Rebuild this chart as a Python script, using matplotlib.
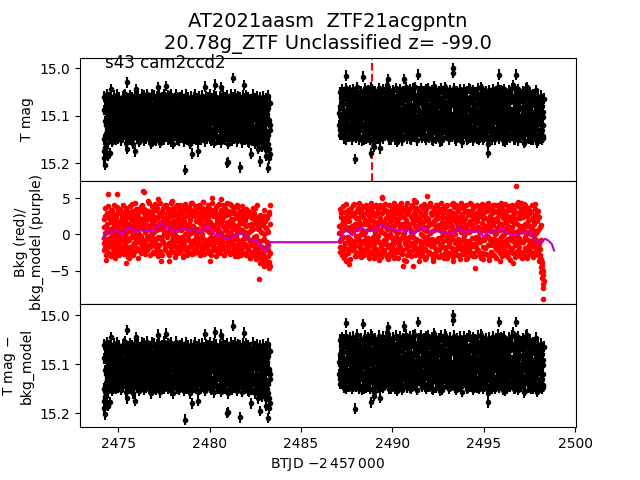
import numpy as np
import matplotlib
matplotlib.use("Agg")
import matplotlib.pyplot as plt

# ---------------- data ----------------
title_line1 = "AT2021aasm  ZTF21acgpntn"
title_line2 = "20.78g_ZTF Unclassified z= -99.0"
sector_label = "s43 cam2ccd2"
marker_time = 2488.87

# segment time ranges (regular TESS cadence)
seg1_start, seg1_end = 2474.20, 2483.30
seg2_start, seg2_end = 2487.10, 2498.27
mag_err = 0.011

# T mag, in mmag above 15.000 (cadence A)
tmag_seg1_mmag = [
    190, 175, 203, 160, 120, 182, 95, 140, 75, 178, 110, 45, 130, 88, 150, 105, 70, 125, 95, 140,
    100, 135, 80, 118, 68, 145, 92, 112, 76, 128, 102, 58, 140, 85, 120, 97, 30, 170, 110, 82,
    130, 72, 115, 95, 150, 66, 108, 125, 88, 175, 100, 45, 132, 78, 118, 92, 140, 70, 105, 122,
    85, 138, 62, 110, 128, 96, 148, 74, 116, 90, 135, 68, 102, 125, 80, 145, 94, 112, 58, 130,
    100, 75, 140, 88, 120, 40, 105, 133, 70, 115, 92, 148, 82, 126, 65, 108, 138, 38, 118, 90,
    142, 72, 110, 128, 86, 155, 98, 64, 122, 104, 136, 80, 115, 94, 150, 70, 108, 130, 88, 118,
    76, 140, 100, 66, 126, 92, 214, 112, 84, 145, 104, 70, 132, 96, 118, 160, 78, 180, 106, 88,
    125, 62, 114, 150, 90, 135, 74, 175, 102, 120, 84, 142, 68, 110, 130, 96, 146, 39, 116, 88,
    134, 76, 106, 124, 92, 148, 70, 112, 138, 82, 100, 128, 64, 118, 35, 94, 144, 108, 78, 126,
    98, 150, 66, 40, 115, 132, 86, 145, 110, 128, 72, 138, 200, 94, 198, 104, 80, 136, 116, 68,
    122, 90, 21, 140, 106, 76, 130, 112, 150, 84, 118, 96, 62, 209, 134, 100, 146, 74, 124, 36,
    92, 138, 80, 114, 155, 68, 126, 104, 143, 86, 180, 110, 72, 132, 98, 150, 64, 120, 88, 140,
    106, 170, 78, 196, 128, 94, 148, 70, 118, 160, 86, 136, 102, 185, 75, 150, 210, 115, 190, 130,
]
tmag_seg2_mmag = [
    95, 130, 62, 110, 140, 75, 118, 50, 102, 135, 16, 88, 124, 66, 145, 98, 80, 115, 58, 138,
    92, 120, 70, 191, 105, 48, 132, 84, 112, 150, 64, 100, 126, 78, 18, 142, 90, 56, 116, 134,
    72, 104, 146, 60, 122, 86, 178, 40, 110, 128, 96, 165, 68, 138, 82, 114, 52, 148, 100, 169,
    76, 124, 94, 55, 136, 108, 70, 142, 88, 118, 35, 24, 130, 62, 102, 150, 80, 112, 46, 126,
    96, 140, 66, 116, 84, 155, 104, 50, 132, 74, 120, 92, 145, 60, 110, 23, 86, 128, 100, 70,
    138, 56, 118, 90, 148, 78, 106, 126, 42, 98, 135, 68, 114, 152, 82, 14, 122, 94, 58, 140,
    104, 74, 130, 88, 48, 116, 146, 64, 100, 124, 80, 138, 54, 112, 96, 150, 70, 120, 38, 108,
    86, 134, 62, 118, 100, 144, 76, 126, 50, 110, 92, 152, 68, 130, 84, 40, 122, 98, 140, 60,
    114, 80, 136, 96, 54, 124, 0, 10, 106, 148, 72, 118, 88, 140, 64, 102, 130, 46, 112, 156,
    78, 126, 94, 58, 138, 104, 70, 120, 148, 84, 110, 44, 132, 92, 66, 142, 100, 124, 76, 116,
    56, 136, 90, 108, 150, 72, 122, 98, 40, 130, 82, 114, 146, 62, 104, 128, 88, 160, 178, 94,
    118, 68, 140, 100, 52, 126, 86, 112, 150, 74, 134, 96, 60, 120, 14, 104, 142, 80, 116, 48,
    130, 92, 154, 70, 110, 124, 58, 138, 98, 84, 146, 66, 118, 104, 36, 128, 90, 150, 76, 14,
    112, 136, 62, 100, 144, 82, 120, 54, 132, 94, 158, 72, 108, 126, 88, 40, 140, 102, 68, 118,
    96, 150, 78, 130, 110, 60, 142, 90, 124, 156, 74, 116, 100, 138, 84, 148, 106, 130, 92, 120,
]
# cadence B
tmag_seg1b_mmag = [
    150, 88, 168, 112, 72, 130, 96, 185, 80, 122, 104, 140, 66, 118, 92, 134, 78, 110, 128, 86,
    116, 70, 132, 98, 124, 84, 138, 74, 108, 94, 120, 68, 130, 102, 88, 114, 136, 76, 126, 96,
    82, 118, 104, 136, 72, 96, 128, 110, 70, 140, 90, 120, 84, 106, 132, 66, 114, 98, 126, 78,
    112, 94, 124, 80, 138, 102, 70, 118, 132, 86, 108, 96, 140, 74, 120, 90, 128, 106, 78, 116,
    124, 92, 108, 130, 68, 114, 98, 82, 136, 104, 72, 120, 110, 88, 134, 96, 76, 122, 102, 140,
    86, 118, 94, 74, 126, 108, 132, 88, 114, 70, 100, 138, 80, 122, 106, 92, 134, 78, 116, 98,
    120, 84, 128, 110, 94, 136, 72, 102, 124, 80, 118, 140, 90, 108, 76, 126, 98, 114, 132, 70,
    100, 130, 84, 96, 122, 106, 140, 78, 116, 92, 128, 72, 104, 136, 88, 118, 74, 100, 126, 110,
    92, 116, 134, 80, 104, 122, 96, 70, 128, 110, 86, 140, 76, 102, 120, 130, 84, 98, 114, 72,
    124, 82, 106, 118, 94, 72, 130, 100, 88, 116, 136, 98, 120, 76, 110, 140, 92, 126, 104, 86,
    108, 132, 76, 98, 120, 90, 114, 70, 104, 128, 80, 138, 94, 112, 82, 120, 100, 88, 116, 130,
    120, 72, 104, 130, 88, 112, 96, 140, 78, 118, 100, 84, 126, 108, 74, 136, 92, 110, 130, 102,
    130, 92, 150, 112, 80, 138, 100, 124, 90, 142, 108, 76, 130, 118, 160, 96, 140, 84, 170, 120,
]
tmag_seg2b_mmag = [
    120, 80, 104, 140, 68, 96, 126, 88, 112, 60, 132, 100, 76, 118, 92, 136, 64, 108, 124, 84,
    110, 70, 134, 96, 58, 122, 102, 140, 80, 114, 90, 128, 66, 106, 120, 84, 150, 98, 72, 116,
    130, 90, 62, 112, 100, 136, 76, 120, 94, 150, 82, 108, 126, 56, 114, 98, 134, 70, 104, 122,
    88, 116, 62, 130, 98, 80, 124, 108, 66, 140, 94, 112, 76, 128, 100, 58, 118, 90, 136, 72,
    106, 124, 84, 98, 62, 132, 110, 76, 120, 94, 140, 68, 104, 126, 88, 114, 56, 100, 134, 80,
    96, 118, 72, 128, 104, 60, 136, 90, 112, 80, 124, 100, 66, 116, 138, 86, 108, 74, 130, 94,
    112, 64, 102, 126, 86, 140, 96, 70, 118, 108, 58, 132, 90, 122, 76, 104, 136, 84, 114, 98,
    124, 78, 108, 92, 132, 60, 116, 100, 140, 82, 120, 72, 104, 128, 94, 56, 112, 134, 86, 106,
    90, 130, 74, 118, 102, 138, 66, 110, 96, 124, 82, 140, 60, 106, 120, 92, 132, 78, 100, 126,
    108, 70, 134, 94, 116, 84, 128, 62, 104, 120, 76, 140, 98, 112, 56, 130, 88, 106, 122, 80,
    128, 92, 110, 66, 136, 100, 80, 118, 90, 144, 72, 104, 126, 86, 114, 60, 132, 98, 120, 108,
    84, 122, 100, 136, 70, 112, 94, 128, 62, 108, 140, 80, 118, 96, 132, 74, 106, 124, 58, 114,
    96, 134, 78, 110, 120, 66, 104, 140, 88, 126, 72, 116, 100, 60, 130, 92, 112, 136, 82, 106,
    122, 70, 100, 130, 86, 116, 140, 64, 108, 94, 124, 78, 134, 102, 58, 118, 90, 128, 106, 144,
    80, 112, 136, 96, 124, 70, 108, 130, 88, 150, 100, 118, 76, 142, 110, 92, 134, 120, 146, 102,
]
# cadence C
tmag_seg1c_mmag = [
    60, 145, 85, 165, 105, 55, 138, 72, 150, 92, 62, 128, 80, 155, 100, 58, 142, 115, 68, 150,
    88, 56, 148, 104, 62, 136, 78, 152, 94, 60, 140, 110, 54, 130, 74, 158, 98, 64, 146, 84,
    58, 150, 96, 62, 142, 80, 160, 100, 56, 134, 76, 148, 90, 60, 155, 110, 68, 144, 84, 56,
    146, 92, 58, 152, 70, 130, 98, 54, 140, 82, 150, 64, 118, 160, 76, 56, 138, 96, 150, 66,
    84, 152, 60, 136, 100, 56, 146, 74, 158, 90, 62, 140, 108, 54, 150, 80, 66, 144, 96, 58,
    150, 82, 60, 138, 104, 56, 148, 76, 160, 94, 64, 142, 86, 54, 136, 110, 70, 152, 62, 140,
    96, 58, 146, 80, 154, 66, 130, 100, 56, 150, 88, 62, 140, 74, 158, 92, 60, 144, 112, 68,
    148, 86, 56, 140, 100, 64, 156, 78, 60, 136, 94, 150, 58, 124, 82, 146, 66, 104, 154, 60,
    90, 148, 62, 138, 76, 56, 152, 98, 64, 144, 84, 158, 58, 130, 102, 60, 146, 72, 150, 94,
    60, 142, 86, 156, 68, 54, 146, 100, 62, 150, 78, 136, 58, 160, 92, 66, 144, 112, 56, 152,
    84, 62, 148, 96, 56, 140, 74, 154, 104, 60, 146, 82, 66, 138, 92, 156, 58, 128, 100, 64,
    150, 76, 58, 144, 90, 62, 156, 100, 66, 140, 80, 152, 56, 134, 96, 68, 160, 84, 60, 146,
    70, 156, 92, 62, 148, 104, 166, 80, 60, 152, 96, 140, 64, 172, 88, 58, 160, 110, 180, 74,
]
tmag_seg2c_mmag = [
    50, 140, 80, 45, 132, 96, 148, 60, 120, 42, 150, 90, 55, 136, 70, 46, 128, 104, 150, 62,
    44, 138, 86, 52, 146, 72, 40, 130, 100, 58, 144, 66, 48, 152, 94, 56, 134, 42, 110, 148,
    60, 46, 142, 84, 54, 150, 70, 44, 126, 98, 156, 58, 48, 140, 76, 62, 146, 42, 118, 150,
    56, 136, 90, 44, 148, 66, 52, 138, 104, 60, 42, 128, 80, 150, 48, 58, 144, 94, 46, 140,
    64, 150, 42, 130, 86, 54, 146, 72, 44, 138, 100, 58, 152, 48, 120, 66, 142, 40, 92, 148,
    52, 136, 78, 44, 150, 62, 128, 96, 46, 144, 56, 40, 138, 84, 152, 60, 48, 132, 106, 42,
    146, 70, 50, 140, 88, 58, 150, 44, 124, 64, 42, 146, 96, 54, 136, 76, 46, 152, 60, 130,
    44, 148, 82, 56, 140, 66, 48, 154, 98, 42, 132, 60, 146, 52, 116, 72, 44, 142, 90, 58,
    150, 46, 128, 78, 54, 144, 62, 42, 138, 100, 56, 152, 48, 134, 70, 60, 146, 44, 120, 86,
    56, 140, 44, 130, 92, 60, 150, 48, 136, 74, 42, 146, 58, 124, 104, 46, 152, 66, 138, 50,
    88, 148, 54, 42, 136, 70, 146, 58, 120, 44, 150, 96, 60, 140, 48, 130, 78, 152, 62, 46,
    142, 84, 56, 150, 44, 126, 100, 62, 146, 48, 134, 70, 40, 148, 92, 58, 138, 46, 118, 152,
    60, 44, 140, 82, 54, 150, 66, 128, 46, 146, 98, 58, 136, 42, 120, 72, 150, 56, 140, 48,
    86, 152, 44, 132, 62, 56, 146, 104, 48, 140, 70, 60, 154, 42, 126, 90, 58, 148, 76, 50,
    140, 62, 96, 150, 56, 130, 74, 46, 146, 108, 60, 152, 70, 138, 88, 58, 150, 80, 142, 64,
]
# T mag - bkg_model: indistinguishable from T mag at this resolution
tmag_sub_seg1_mmag = list(tmag_seg1_mmag)
tmag_sub_seg2_mmag = list(tmag_seg2_mmag)
tmag_sub_seg1b_mmag = list(tmag_seg1b_mmag)
tmag_sub_seg2b_mmag = list(tmag_seg2b_mmag)
tmag_sub_seg1c_mmag = list(tmag_seg1c_mmag)
tmag_sub_seg2c_mmag = list(tmag_seg2c_mmag)

# background flux (red), cadence A
bkg_seg1 = [
    -0.5, 2.1, -1.8, -3.5, 1.2, 0.3, 5.6, -1.0, 2.8, 0.6, -2.9, 1.7, -0.4, 3.2, -1.5, 0.9, 2.4, -3.3, 0.1, 1.5,
    5.6, -2.2, 2.9, 0.4, -1.2, 3.5, 1.1, -0.7, 2.2, -2.6, 0.8, 3.0, -1.6, 1.8, -4.0, 0.2, 2.6, -0.9, 1.4, -3.3,
    3.1, 0.5, -1.9, 2.0, 4.2, -0.3, 1.3, -2.4, 2.7, 0.0, 1.9, -1.1, 3.4, 0.7, -2.0, 2.3, 1.0, -0.6, 3.8, 1.6,
    -1.4, 6.0, 5.8, 0.9, 2.6, -2.3, 1.5, 3.3, -0.2, 2.1, -1.7, 4.4, 0.6, 2.9, -0.8, 1.8, -2.5, 3.6, 1.2, 0.3,
    2.4, -1.3, 3.9, 0.8, -2.1, 4.9, 1.6, -0.5, 2.8, -3.7, 1.0, 3.2, -1.0, 2.2, 0.4, 4.1, -1.8, 1.9, 3.0, -0.2,
    1.7, -3.7, 3.5, 0.9, 2.5, -1.5, 4.6, 1.3, -0.4, 3.1, 0.2, -2.4, 2.7, 1.1, 4.0, -0.9, 2.0, 3.4, -1.9, 1.5,
    0.6, 3.2, -1.2, 2.3, -3.1, 1.8, 3.9, 0.1, -2.2, 2.6, 1.0, -0.6, 3.6, 1.4, -1.6, 2.9, 0.5, 4.3, -2.7, 1.2,
    2.5, -0.8, 3.3, 0.7, -2.0, 1.9, 3.7, -1.4, 2.1, 0.3, -2.8, 3.0, 1.5, -0.3, 4.5, 0.9, -1.7, 2.4, 1.1, 3.5,
    -1.0, 2.0, -2.4, 3.1, 0.4, 1.7, -3.7, 2.8, 5.0, -0.7, 1.3, 3.4, -1.9, 0.8, 2.6, -0.4, 3.9, 1.6, -2.6, 2.2,
    0.5, 3.0, -1.5, 4.9, 1.8, -0.9, 2.4, -2.9, 3.6, 0.9, -0.2, 2.7, 1.3, -2.0, 3.2, 0.1, 4.2, -1.2, 1.9, 2.9,
    -0.6, 3.4, 0.8, -2.3, 2.2, 1.0, -1.4, 3.8, 0.3, -3.0, 2.5, 1.4, -0.9, 3.1, -2.1, 0.6, 2.0, -1.7, 3.5, 0.0,
    2.3, -2.6, 1.1, -0.5, 3.3, -1.9, 0.4, 2.6, -3.2, 1.5, -0.8, 3.0, -2.4, 0.7, 2.1, -1.3, 3.7, -0.2, 1.8, 4.0,
    -2.8, 1.2, -6.2, 2.7, -1.6, 0.3, -3.6, 2.0, -0.7, 3.4, -2.3, 1.0, -4.1, 2.5, -1.1, 0.6, -3.0, 3.1, -4.7, 4.0,
]
bkg_seg2 = [
    0.2, -1.8, 2.4, -0.6, 1.5, -2.7, 3.1, 0.8, -1.2, 2.9, -3.6, 1.9, -0.3, 3.4, -4.1, 1.0, 2.6, -1.5, 0.5, 3.0,
    -2.2, 4.2, 1.3, -0.9, 2.2, -3.0, 0.7, 3.6, -1.6, 1.8, -2.5, 2.8, 0.1, -1.1, 3.9, 1.4, -2.9, 2.0, 0.4, -0.5,
    3.3, -1.9, 1.6, -3.3, 2.5, 0.9, -0.8, 3.7, -2.3, 1.2, 2.7, -1.3, 0.3, 4.0, -2.8, 1.7, -0.2, 3.0, -3.5, 2.1,
    0.6, -1.7, 5.0, 5.2, -2.6, 1.1, 3.5, -0.7, 2.3, -3.1, 0.8, 2.9, -1.4, 4.1, 0.0, -2.4, 1.9, 3.2, -1.0, 2.6,
    -3.2, 1.3, 3.8, -0.4, 2.0, -2.0, 0.5, 3.4, -1.8, 1.5, 4.3, -2.7, 0.9, -4.3, 2.4, 0.2, -1.2, 3.1, -3.6, 1.6,
    2.8, -0.6, 1.0, -2.9, 3.6, 0.4, -1.5, 2.2, -4.3, 1.8, 4.7, -0.9, 2.5, -2.2, 0.7, 3.3, -1.9, 1.4, -3.0, 2.9,
    0.1, -2.4, 3.7, 1.2, -1.1, 2.6, -3.4, 0.9, 5.3, -0.3, 2.1, -2.6, 1.6, 3.9, -1.6, 0.5, 2.7, -3.6, 1.9, -0.8,
    3.1, -2.1, 1.1, 4.0, -0.5, 2.3, -3.1, 0.6, 3.5, -1.3, 1.7, -2.8, 2.9, 0.3, -1.7, 3.8, 1.0, -3.3, 2.2, 0.0,
    -1.0, 3.2, 1.5, -2.5, 2.6, 0.2, -3.6, 4.4, -0.7, 1.9, 3.0, -2.0, 0.8, 2.4, -1.4, 3.6, -2.9, 1.3, 0.4, 2.8,
    -1.9, 1.7, 3.9, -0.2, 2.1, -3.4, 0.9, 3.3, -1.2, 1.4, -2.6, 2.7, 0.5, 4.2, -1.6, 1.1, -3.0, 2.5, -4.6, 0.7,
    3.0, -1.1, 1.8, -2.3, 2.9, 0.3, -0.9, 3.7, -3.2, 1.6, 2.2, -1.8, 0.6, 4.1, -2.7, 1.2, 3.4, -0.4, 2.0, -3.5,
    0.8, 2.6, -1.5, 3.5, -0.6, 1.3, -2.9, 2.1, 4.0, -1.0, 0.2, 3.1, -2.2, 1.7, -0.8, 2.8, -3.6, 1.0, 3.8, -1.7,
    2.3, 0.1, -2.5, 3.3, 1.4, -1.3, 2.6, -3.1, 0.9, 3.9, -0.5, 1.8, -2.0, 2.5, -3.9, 0.4, 3.0, -1.4, 1.6, 6.7,
    -0.2, 2.2, 4.5, -2.8, 1.1, -1.0, 3.4, 0.6, -3.3, 2.4, -0.7, 4.2, 1.5, -2.1, 0.3, 2.9, -1.8, 3.6, -2.6, 1.2,
    0.0, 3.1, -1.6, 2.0, -3.0, 1.4, 4.2, -0.9, 2.6, -2.4, 0.5, 3.3, -1.3, -3.6, 1.0, -4.5, -5.2, -6.0, -6.8, -8.9,
]
# cadence B
bkg_seg1b = [
    1.0, -1.2, 2.6, 0.2, -2.0, 3.0, 1.4, -0.6, 2.2, -1.6, 0.7, 3.4, -0.9, 1.8, 0.0, 2.8, -2.4, 1.2, 2.0, -0.3,
    2.4, 0.6, -1.4, 3.2, 1.0, -2.2, 1.9, 0.3, 2.7, -0.8, 1.5, -1.9, 3.1, 0.9, -0.4, 2.3, 1.1, -2.7, 2.9, 0.5,
    -0.7, 2.5, 1.2, -2.3, 3.0, 0.4, 1.8, -1.3, 2.2, 0.8, 3.5, -0.5, 1.4, -2.1, 2.6, 0.1, 3.2, -1.0, 1.7, 2.1,
    0.9, 3.1, -1.1, 2.0, 0.3, 1.6, -2.0, 2.8, 1.1, -0.6, 3.3, 0.7, -1.5, 2.4, 1.3, -0.2, 2.9, 0.5, -2.4, 1.9,
    3.4, 0.6, -1.7, 2.3, 1.2, -0.4, 3.0, 0.8, -2.6, 1.7, 2.5, -0.8, 1.0, 3.6, 0.2, -1.4, 2.1, 1.5, -0.1, 2.7,
    0.4, 2.2, -1.2, 3.1, 1.0, -2.0, 2.6, 0.2, 1.8, -0.9, 3.3, 1.4, -1.6, 2.0, 0.6, 2.9, -0.5, 1.2, 3.7, -1.8,
    2.1, -0.3, 1.6, 3.0, -1.8, 0.9, 2.4, -0.7, 1.3, 3.2, -2.3, 0.5, 2.7, 1.1, -0.9, 2.0, 3.4, 0.2, -1.4, 2.5,
    1.2, -2.1, 2.8, 0.4, 1.9, -1.0, 3.1, 0.7, -0.5, 2.4, 1.6, -2.4, 2.0, 3.3, 0.1, -1.2, 2.6, 0.9, -0.7, 1.7,
    2.9, 0.6, -1.5, 2.2, 1.0, -0.6, 3.0, 0.3, 1.5, -2.2, 2.5, 0.8, -1.1, 3.2, 1.3, -0.2, 2.0, -1.9, 0.7, 2.7,
    1.4, -0.8, 2.3, 0.2, 3.1, -1.6, 1.1, 2.6, -0.4, 0.9, 3.4, -2.3, 1.7, 0.5, -1.0, 2.8, 1.2, -0.6, 2.1, 0.0,
    2.0, -1.3, 1.4, 3.0, -0.2, 0.8, -2.5, 2.3, 1.1, -0.7, 2.9, 0.4, -1.8, 1.8, 2.6, -0.9, 0.6, 3.1, -1.2, 1.5,
    0.3, 1.9, -1.6, 2.5, 0.0, -2.2, 1.3, 2.9, -0.9, 0.6, -2.8, 2.2, 0.9, -1.5, 3.0, -0.4, 1.5, -2.0, 2.4, -0.7,
    0.8, -2.0, 2.2, -0.9, 1.4, -3.0, 0.4, -1.8, 2.6, -2.6, 0.0, 1.8, -3.3, 0.9, -1.6, 2.3, -2.2, 0.3, -3.8, 1.5,
]
bkg_seg2b = [
    1.2, -0.9, 3.0, 0.4, -2.2, 2.0, -0.3, 1.6, -2.8, 0.8, 2.4, -1.0, 3.3, -2.0, 0.6, 1.9, -0.6, 2.7, -1.7, 1.1,
    0.3, 2.6, -1.4, 1.5, -0.2, 3.1, -2.5, 0.9, 2.2, -0.8, 1.3, -1.9, 3.5, 0.5, -1.2, 2.4, 0.0, -2.3, 1.8, 2.9,
    -0.7, 1.4, 2.8, -1.6, 0.7, 2.1, -2.6, 1.0, 3.2, -0.4, 1.9, -1.1, 2.5, 0.2, -2.0, 3.0, 0.8, -0.9, 1.6, -2.4,
    2.2, 0.4, -1.3, 2.9, 1.1, -2.1, 1.7, 0.0, 3.3, -0.6, 1.4, -1.8, 2.6, 0.9, -2.8, 2.0, -0.3, 1.2, 3.1, -1.5,
    0.6, 2.4, -0.8, 1.7, -2.4, 3.0, 0.3, -1.4, 2.2, 1.0, -0.5, 2.8, -2.2, 1.5, 0.1, 3.4, -1.1, 0.7, 2.0, -1.9,
    1.3, 3.2, -0.4, 0.9, -2.3, 2.5, 1.6, -1.2, 0.4, 2.9, -1.7, 1.1, 3.6, -0.6, 2.1, -2.6, 0.8, 1.9, -0.9, 2.4,
    -1.3, 1.0, 2.7, -0.2, 1.8, -2.0, 3.0, 0.5, -1.0, 2.3, 1.2, -2.4, 1.6, 0.2, 2.9, -0.7, 1.4, -1.5, 3.3, 0.6,
    2.0, -1.1, 0.7, 2.6, -2.2, 1.3, 3.1, -0.5, 0.9, -1.8, 2.4, 1.0, -0.9, 3.4, 0.3, -2.6, 1.7, 2.2, -0.3, 1.1,
    2.8, -1.6, 0.5, 1.9, -0.6, 3.0, 1.2, -2.3, 2.1, 0.0, -1.2, 2.6, 1.4, -2.0, 3.2, 0.7, -0.8, 1.8, 2.5, -1.4,
    0.9, 2.3, -2.1, 1.5, 0.2, 3.1, -0.9, 1.1, -1.7, 2.7, 0.4, -2.5, 1.9, 3.3, -0.5, 1.3, 2.1, -1.3, 0.6, 2.8,
    -0.4, 1.7, -2.2, 2.4, 1.0, -1.0, 3.0, 0.3, -2.7, 1.6, 2.6, -0.6, 1.2, -1.9, 2.2, 0.8, -0.3, 3.2, -1.5, 1.4,
    2.0, -0.8, 1.3, -2.4, 2.9, 0.5, 1.7, -1.2, 3.3, 0.1, -2.0, 2.3, 1.0, -0.7, 2.7, -1.8, 0.6, 3.0, -0.2, 1.5,
    -1.1, 2.5, 0.7, -2.3, 1.8, 3.1, -0.6, 1.2, -1.6, 2.2, 0.3, 3.4, -2.1, 1.0, 2.6, -0.9, 1.6, -2.7, 2.0, 0.4,
    1.4, -1.4, 3.0, 0.6, -0.5, 2.3, -2.4, 1.1, 2.8, -1.0, 0.8, 3.2, -1.9, 1.5, 0.0, 2.5, -0.7, 1.8, -2.2, 2.9,
    0.5, -1.2, 2.2, 0.9, -2.6, 1.6, -0.4, 2.7, -1.5, 0.2, 1.9, -2.3, 0.6, -1.0, -2.9, 1.3, -3.4, -4.2, -5.0, -7.4,
]
# cadence C
bkg_seg1c = [
    -2.2, 3.6, -1.0, -2.8, 0.5, -1.9, 3.9, -0.6, -2.5, 2.9, -1.3, -3.0, 0.2, 3.4, -2.0, -0.8, 4.1, -2.6, -1.5, 0.7,
    -1.1, 3.8, -2.4, -0.3, -2.9, 3.2, -1.7, 0.1, -2.2, 4.0, -0.9, -2.7, 1.2, -1.4, 3.6, -2.1, -0.5, -3.1, 2.5, -1.8,
    3.9, -2.6, -0.4, -1.6, 3.3, -2.9, 0.4, -1.2, 4.3, -2.3, -0.7, 2.8, -1.9, -3.2, 0.9, -1.0, 3.7, -2.5, -0.2, -1.5,
    4.0, -2.0, -0.8, 3.5, -2.7, -1.3, 0.6, -2.2, 4.6, -0.5, -1.8, 3.1, -2.8, -0.1, -1.6, 3.9, -2.4, 0.3, -1.1, 4.2,
    -2.5, -0.6, 3.7, -1.9, -3.0, 0.8, -1.4, 4.4, -2.3, -0.3, 3.0, -2.8, -1.0, 0.5, 3.8, -2.1, -1.6, 4.1, -0.4, -2.6,
    3.4, -1.2, -2.9, 0.2, 4.3, -1.7, -0.7, 3.6, -2.4, -1.1, 0.9, -3.1, 3.9, -0.2, -1.9, 2.7, -2.6, -0.9, 4.0, -1.4,
    -2.2, 3.5, -0.5, -2.8, 1.0, -1.5, 4.2, -2.0, -0.8, 3.2, -2.9, -0.1, 3.8, -1.8, -2.5, 0.6, 4.4, -1.2, -2.3, 2.9,
    -0.7, -2.6, 3.9, -1.3, -0.2, 3.1, -2.4, -1.0, 4.1, -2.9, 0.4, -1.7, 3.6, -2.1, -0.6, 4.5, -2.7, -1.4, 0.7, 3.3,
    -2.0, -0.9, 4.0, -2.5, -1.2, 3.5, -0.3, -2.8, 0.9, 4.3, -1.6, -2.2, 3.0, -0.7, -3.0, 3.8, -1.1, 0.2, -2.4, 4.2,
    -1.5, -2.6, 3.4, -0.4, -2.0, 4.0, -1.0, -2.9, 0.6, 3.7, -1.8, -0.5, 4.4, -2.3, -1.2, 3.1, -2.7, 0.3, -1.6, 3.9,
    -2.4, -0.8, 3.6, -1.9, -3.0, 2.8, -0.2, -2.2, 4.1, -1.4, -2.6, 0.8, 3.3, -1.1, -2.9, 3.9, -0.6, -1.8, 2.6, -2.5,
    -1.3, 3.5, -2.8, -0.4, -2.1, 3.0, -1.6, -3.2, 0.5, 2.9, -2.4, -1.0, 3.6, -2.9, -0.7, 2.4, -1.9, -3.4, 1.6, -2.6,
    -3.1, 0.9, -2.4, -4.0, 2.0, -1.8, -3.5, 1.3, -2.9, -0.6, -4.3, 2.5, -2.0, -3.7, 0.4, -1.5, -3.9, 2.8, -2.6, -4.4,
]
bkg_seg2c = [
    -2.4, 3.5, -0.8, -2.9, 0.6, 3.9, -1.6, -3.2, 1.2, -2.0, 4.2, -0.4, -2.6, 3.1, -1.2, -3.4, 0.3, 3.7, -2.2, -0.9,
    4.0, -1.8, -3.0, 0.8, -2.4, 3.4, -0.6, -2.8, 4.4, -1.4, -0.1, -3.1, 3.2, -2.0, -0.9, 3.8, -2.7, 0.5, -1.5, 4.1,
    -2.3, -0.5, 3.6, -3.0, -1.2, 0.9, 4.3, -2.5, -0.7, 3.0, -1.9, -3.3, 3.9, -0.3, -2.1, 1.1, 3.5, -2.8, -1.0, 4.0,
    -1.6, -3.1, 0.4, 3.7, -2.2, -0.8, 4.2, -2.7, -1.3, 3.3, -0.2, -3.4, 4.0, -1.7, -2.5, 0.7, 3.6, -2.0, -0.6, 4.4,
    -2.9, -1.1, 3.1, -2.3, 0.2, 3.9, -3.2, -0.9, 4.1, -1.8, -2.6, 1.0, 3.5, -2.1, -0.4, -3.5, 3.8, -1.4, -2.8, 4.3,
    -0.7, -2.4, 3.4, -1.5, -3.0, 0.6, 4.0, -2.2, -0.3, 3.6, -2.9, -1.2, 4.5, -1.9, -0.8, 3.2, -2.6, -3.6, 1.4, 3.9,
    -1.7, -2.8, 0.8, 4.2, -2.1, -0.5, 3.5, -3.1, -1.3, 3.9, -2.4, 0.3, 4.3, -1.0, -2.7, 3.0, -0.6, -3.3, 3.7, -1.9,
    -2.5, 4.1, -0.9, -3.0, 0.9, 3.4, -2.2, -1.4, 4.4, -2.8, -0.2, 3.6, -1.8, -3.2, 1.2, 3.9, -2.3, -0.7, 4.0, -2.9,
    -1.2, 3.3, -2.6, -0.4, 4.2, -1.9, -3.1, 0.6, 3.8, -2.4, -1.0, 4.0, -2.9, -0.6, 3.5, -1.6, -3.4, 1.0, 4.3, -2.1,
    -0.8, 3.7, -2.7, -1.5, 0.4, 4.1, -2.3, -3.3, 3.2, -0.9, -2.0, 4.4, -1.3, -2.8, 0.8, 3.6, -2.5, -0.5, 3.9, -3.0,
    -1.7, 4.0, -2.2, -0.3, 3.4, -2.9, -1.1, 0.7, 4.2, -2.5, -3.4, 3.1, -0.8, -1.9, 3.8, -2.7, -0.2, 4.3, -1.5, -3.1,
    0.5, 3.6, -2.4, -1.0, 4.1, -2.9, -0.6, 3.3, -1.8, -3.2, 0.9, 4.0, -2.2, -1.3, 3.7, -2.6, -0.4, 4.4, -3.0, -1.6,
    3.2, -2.1, -0.9, 4.2, -2.8, -1.4, 0.6, 3.8, -2.4, -3.5, 3.5, -0.7, -1.9, 4.1, -2.6, -0.2, 3.4, -3.1, -1.2, 4.0,
    -2.3, -0.6, 3.9, -1.7, -3.0, 0.8, 4.3, -2.5, -1.1, 3.6, -2.8, -0.3, 4.0, -2.0, -3.3, 1.1, 3.7, -1.4, -2.7, 3.2,
    -0.9, -2.4, 4.1, -1.6, -3.1, 0.5, 3.5, -2.2, -0.7, 3.0, -2.8, -1.5, 2.4, -3.3, -2.0, -0.8, -3.8, -4.8, -5.6, -6.4,
]

# background model (purple)
model_time = [
    2474.14, 2474.27, 2474.45, 2474.64, 2474.82, 2475.00, 2475.19, 2475.37, 2475.55, 2475.73,
    2475.92, 2476.19, 2476.47, 2476.74, 2476.92, 2477.11, 2477.29, 2477.47, 2477.66, 2477.84,
    2478.12, 2478.30, 2478.57, 2478.85, 2479.12, 2479.40, 2479.67, 2479.86, 2480.13, 2480.31,
    2480.59, 2480.86, 2481.14, 2481.41, 2481.69, 2481.96, 2482.24, 2482.51, 2482.79, 2483.01,
    2483.19, 2483.30,
    2487.09, 2487.27, 2487.55, 2487.82, 2488.01, 2488.28, 2488.55, 2488.83, 2489.10, 2489.38,
    2489.65, 2489.93, 2490.20, 2490.48, 2490.75, 2490.94, 2491.12, 2491.39, 2491.58, 2491.85,
    2492.13, 2492.40, 2492.68, 2492.95, 2493.23, 2493.50, 2493.68, 2493.87, 2494.14, 2494.42,
    2494.69, 2494.97, 2495.24, 2495.51, 2495.79, 2495.97, 2496.25, 2496.52, 2496.80, 2497.07,
    2497.35, 2497.53, 2497.80, 2498.08, 2498.35, 2498.54, 2498.72, 2498.85,
]
model_value = [
    -0.60, 0.09, 0.56, 0.19, 0.56, 0.33, 0.00, 0.56, 1.02, 0.79,
    0.33, 0.56, 0.47, 0.65, 0.33, 1.02, 1.58, 1.26, 0.79, 1.02,
    0.33, 0.65, 0.79, 0.56, 0.79, 0.33, 0.56, 1.26, 0.56, -0.14,
    0.09, -0.60, -0.47, -0.14, 0.19, -0.14, -0.74, -0.84, -1.53, -2.33,
    -1.77, -1.07,
    -1.07, 0.33, 0.47, -0.14, 0.65, 0.93, 0.56, 0.47, 0.65, 1.49,
    0.79, 0.93, 0.56, 0.65, 0.33, 0.79, -0.14, 0.56, 1.02, 0.65,
    0.33, 0.56, 0.19, 0.33, 0.09, 0.65, 1.02, 0.09, 0.56, 0.33,
    0.56, -0.28, 0.33, 0.47, 0.56, 0.79, 0.19, -0.14, 0.00, 0.09,
    0.33, 0.47, -0.74, -1.21, -0.60, -0.84, -1.30, -2.23,
]

# ---------------- derived arrays ----------------
t1 = np.linspace(seg1_start, seg1_end, len(tmag_seg1_mmag))
t2 = np.linspace(seg2_start, seg2_end, len(tmag_seg2_mmag))
dt1 = t1[1] - t1[0]
dt2 = t2[1] - t2[0]
t_all = np.concatenate([t1, t2, t1 - dt1 / 3, t2 - dt2 / 3, t1 + dt1 / 3, t2 + dt2 / 3])
tmag = 15.0 + np.array(tmag_seg1_mmag + tmag_seg2_mmag
                       + tmag_seg1b_mmag + tmag_seg2b_mmag
                       + tmag_seg1c_mmag + tmag_seg2c_mmag) / 1000.0
tmag_sub = 15.0 + np.array(tmag_sub_seg1_mmag + tmag_sub_seg2_mmag
                           + tmag_sub_seg1b_mmag + tmag_sub_seg2b_mmag
                           + tmag_sub_seg1c_mmag + tmag_sub_seg2c_mmag) / 1000.0
bkg = np.array(bkg_seg1 + bkg_seg2 + bkg_seg1b + bkg_seg2b + bkg_seg1c + bkg_seg2c)

# ---------------- plot ----------------
fig, (ax1, ax2, ax3) = plt.subplots(3, 1, sharex=True, figsize=(6.4, 4.8), dpi=100)
fig.subplots_adjust(hspace=0)

ax1.axvline(marker_time, color='red', ls='--', lw=1.5, zorder=1)
ax1.errorbar(t_all, tmag, yerr=mag_err, fmt='k.', ms=6, elinewidth=1.5, zorder=2)
ax1.set_ylim(15.237, 14.978)
ax1.set_yticks([15.0, 15.1, 15.2])
ax1.set_ylabel("T mag")
ax1.text(2474.29, 15.0, sector_label, fontsize=12)
ax1.set_title(title_line1 + "\n" + title_line2, fontsize=14)

ax2.plot(t_all, bkg, 'r.', ms=6)
ax2.plot(model_time, model_value, color='m', lw=1.5)
ax2.set_ylim(-9.6, 7.4)
ax2.set_yticks([5, 0, -5])
ax2.set_ylabel("Bkg (red)/\nbkg_model (purple)")

ax3.errorbar(t_all, tmag_sub, yerr=mag_err, fmt='k.', ms=6, elinewidth=1.5)
ax3.set_ylim(15.229, 14.977)
ax3.set_yticks([15.0, 15.1, 15.2])
ax3.set_ylabel("T mag $-$\nbkg_model")
ax3.set_xlim(2472.9, 2500.05)
ax3.set_xlabel(r"BTJD $-2\,457\,000$")

for ax in (ax1, ax2):
    ax.tick_params(axis='x', bottom=False, labelbottom=False)

fig.savefig("out.png", dpi=100)
